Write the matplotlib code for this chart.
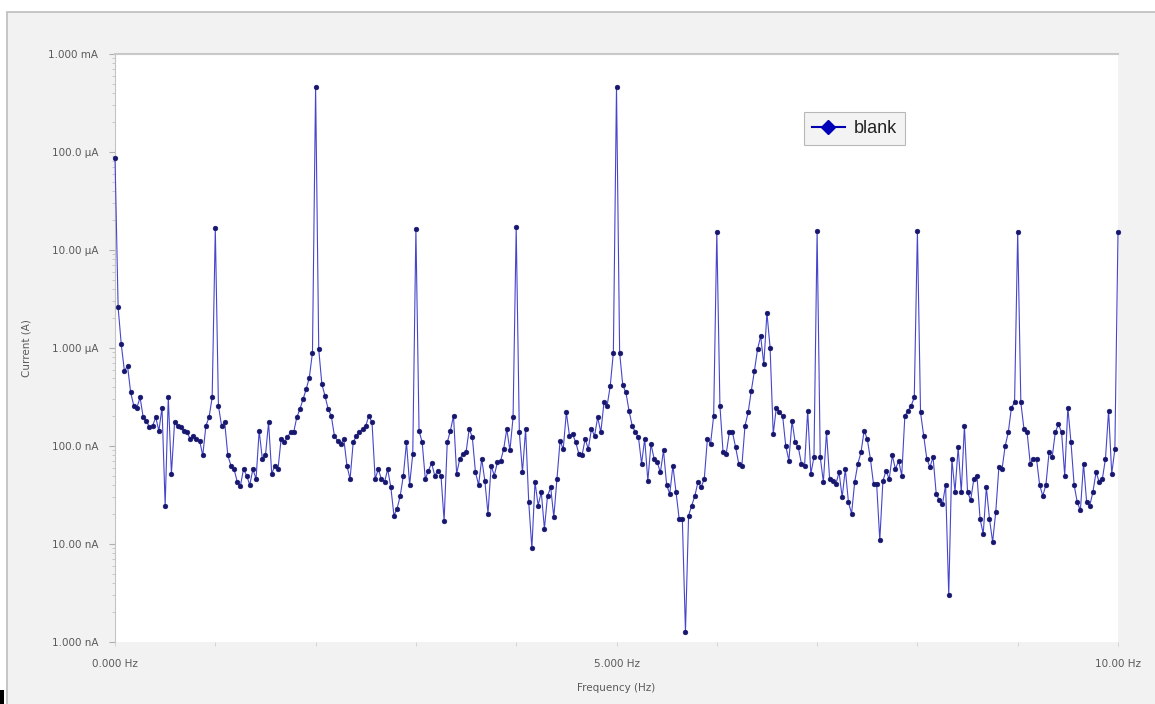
import numpy as np
import matplotlib.pyplot as plt
import matplotlib.ticker as ticker
from matplotlib.patches import Rectangle

# current spectrum of the blank, in nA; one row per 1 Hz band, 32 bins per Hz
current_na = [
    87500, 2590, 1090, 583, 656, 352, 257, 247, 313, 196, 181, 155, 161, 196, 143, 247, 24.7,
    313, 52, 174, 161, 155, 143, 138, 118, 127, 118, 113, 80, 161, 196, 313,
    16600, 257, 161, 174, 80, 63, 58, 43, 39, 58, 50, 40, 58, 46, 143, 74, 80,
    174, 52, 63, 58, 118, 109, 123, 138, 138, 196, 238, 301, 380, 500, 898,
    462000, 970, 427, 325, 238, 203, 127, 113, 105, 118, 63, 46, 109, 127, 138, 149, 161,
    203, 174, 46, 58, 46, 43, 58, 38, 19.5, 23, 31, 50, 109, 40, 83,
    16500, 143, 109, 46, 56, 67, 50, 56, 50, 17.3, 109, 143, 203, 52, 74, 83, 86,
    149, 123, 54, 40, 74, 44, 20.4, 63, 50, 68, 70, 93, 149, 90, 196,
    17000, 138, 54, 149, 26.7, 9.0, 43, 24.7, 34, 14.3, 31, 38, 18.8, 46, 113, 93, 220,
    127, 132, 109, 83, 80, 118, 93, 149, 127, 196, 138, 278, 257, 410, 898,
    460000, 898, 417, 352, 229, 161, 138, 123, 66, 118, 44, 105, 74, 68, 54, 90, 40,
    32.5, 63, 34, 18, 18, 1.27, 19.5, 24.7, 31, 43, 38, 46, 118, 105, 203,
    15300, 257, 86, 83, 138, 138, 97, 66, 63, 161, 220, 365, 583, 970, 1320, 680, 2290,
    1010, 132, 247, 220, 203, 100, 71, 181, 109, 97, 66, 63, 229, 52, 77,
    15500, 77, 43, 138, 46, 44, 41, 54, 30, 58, 26.7, 20.4, 43, 66, 86, 143, 118,
    74, 41, 41, 10.9, 44, 56, 46, 80, 58, 71, 50, 203, 229, 257, 313,
    15500, 220, 127, 74, 61, 77, 32.5, 28, 25.6, 40, 3.0, 74, 34, 97, 34, 161, 34,
    28, 46, 50, 18, 12.7, 38, 18, 10.5, 21.2, 61, 58, 100, 138, 247, 278,
    15300, 278, 149, 138, 66, 74, 74, 40, 31, 40, 86, 77, 138, 167, 138, 50, 247,
    109, 40, 26.7, 22, 66, 26.7, 24.7, 34, 54, 43, 46, 74, 229, 52, 93,
    15300,
]
freq_hz = np.linspace(0, 10, len(current_na))

y_ticks = [1e-9, 1e-8, 1e-7, 1e-6, 1e-5, 1e-4, 1e-3]
y_labels = ['1.000 nA', '10.00 nA', '100.0 nA', '1.000 µA', '10.00 µA', '100.0 µA', '1.000 mA']
x_ticks = list(range(11))
x_labels = ['0.000 Hz', '', '', '', '', '5.000 Hz', '', '', '', '', '10.00 Hz']

W, H = 1155, 704
fig = plt.figure(figsize=(W / 100, H / 100), dpi=100)
fig.patch.set_facecolor('white')

# grey panel behind the plot
fig.patches.append(Rectangle((7 / W, -0.01), 1.0, 1 - 12 / H + 0.01, transform=fig.transFigure,
                             facecolor='#f2f2f2', edgecolor='#bcbcbc', linewidth=1.2, zorder=-10))
fig.patches.append(Rectangle((0, 0), 4 / W, 14 / H, transform=fig.transFigure,
                             facecolor='black', edgecolor='none', zorder=-9))

ax = fig.add_axes([115 / W, 1 - 642 / H, 1003 / W, 588 / H], zorder=1)
ax.set_facecolor('white')

current_a = np.array(current_na) * 1e-9
ax.plot(freq_hz, current_a, '-', color='#4646cc', linewidth=0.8,
        marker='o', markersize=3.4, markeredgewidth=0.4,
        markerfacecolor='#16166e', markeredgecolor='#16166e',
        clip_on=False, zorder=3)

ax.set_yscale('log')
ax.set_ylim(1e-9, 1e-3)
ax.set_xlim(0, 10)

ax.yaxis.set_major_locator(ticker.FixedLocator(y_ticks))
ax.yaxis.set_major_formatter(ticker.FixedFormatter(y_labels))
ax.yaxis.set_minor_locator(ticker.LogLocator(base=10, subs=np.arange(2, 10), numticks=20))
ax.yaxis.set_minor_formatter(ticker.NullFormatter())
ax.set_xticks(x_ticks)
ax.set_xticklabels(x_labels)

ax.tick_params(axis='y', which='major', length=4, width=0.8, color='#b0b0b0',
               labelsize=7.5, labelcolor='#5a5a5a', pad=8)
ax.tick_params(axis='y', which='minor', length=2, width=0.6, color='#c0c0c0')
ax.tick_params(axis='x', which='major', length=3, width=0.6, color='#d0d0d0',
               labelsize=7.5, labelcolor='#5a5a5a', pad=9)

for side in ('right', 'bottom'):
    ax.spines[side].set_visible(False)
ax.spines['left'].set_color('#c4c4c4')
ax.spines['top'].set_color('#c8c8c8')
ax.spines['top'].set_linewidth(1.5)

ax.set_ylabel('Current (A)', fontsize=7.5, color='#5a5a5a', labelpad=12)
ax.set_xlabel('Frequency (Hz)', fontsize=7.5, color='#5a5a5a', labelpad=10)

legend_handle, = ax.plot([], [], '-', color='#0000b0', linewidth=1.5, marker='D',
                         markersize=7, markerfacecolor='#0000b8', markeredgecolor='#0000b8')
leg = ax.legend([legend_handle], ['blank'], loc='upper left', bbox_to_anchor=(0.678, 0.917),
                frameon=True, fancybox=False, handlelength=1.8,
                borderpad=0.45, handletextpad=0.5, prop={'family': 'Liberation Sans', 'size': 13})
leg.get_frame().set_facecolor('#f0f0f0')
leg.get_frame().set_edgecolor('#a8a8a8')
leg.get_frame().set_linewidth(0.8)
for t in leg.get_texts():
    t.set_color('#222222')

fig.savefig('out.png', dpi=100)
